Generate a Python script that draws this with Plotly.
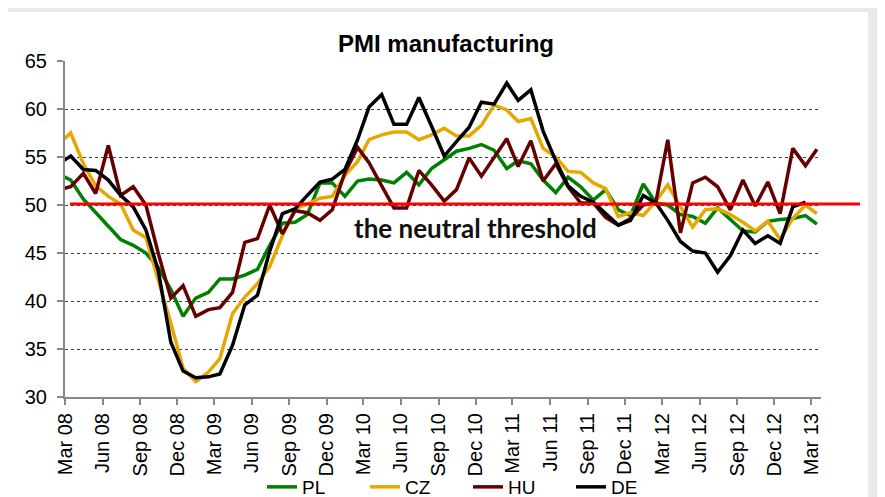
import plotly.graph_objects as go
import pandas as pd

title = "PMI manufacturing"
threshold_label = "the neutral threshold"
threshold = 50.1

# monthly observations, Feb 08 .. Mar 13 (Feb 08 is only partly visible at the left edge)
months = pd.date_range("2008-02-01", "2013-03-01", freq="MS")

tick_dates = pd.date_range("2008-03-01", "2013-03-01", freq="3MS")
tick_labels = ["Mar 08", "Jun 08", "Sep 08", "Dec 08", "Mar 09", "Jun 09", "Sep 09",
               "Dec 09", "Mar 10", "Jun 10", "Sep 10", "Dec 10", "Mar 11", "Jun 11",
               "Sep 11", "Dec 11", "Mar 12", "Jun 12", "Sep 12", "Dec 12", "Mar 13"]
y_ticks = [30, 35, 40, 45, 50, 55, 60, 65]

pl = [53.2, 52.6, 50.6, 49.2, 47.8, 46.4, 45.8, 45.0, 43.5, 41.2, 38.4, 40.3, 40.9,
      42.3, 42.3, 42.7, 43.3, 45.8, 48.1, 48.2, 49.0, 52.3, 52.3, 50.9, 52.5, 52.7,
      52.6, 52.3, 53.4, 52.1, 53.8, 54.7, 55.6, 55.9, 56.3, 55.7, 53.8, 54.6, 54.3,
      52.6, 51.3, 52.9, 51.9, 50.5, 51.6, 49.5, 48.9, 52.2, 50.2, 50.0, 49.0, 48.8,
      48.1, 49.7, 48.5, 47.3, 47.2, 48.3, 48.5, 48.6, 48.9, 48.0]
cz = [56.4, 57.5, 54.3, 52.0, 50.9, 50.1, 47.4, 46.6, 42.2, 37.7, 33.0, 31.6, 32.6,
      34.0, 38.7, 40.4, 41.8, 43.6, 46.8, 49.6, 50.1, 50.7, 50.9, 53.1, 54.5, 56.8,
      57.3, 57.6, 57.6, 56.8, 57.3, 58.0, 57.2, 57.2, 58.3, 60.4, 59.9, 58.7, 59.0,
      55.9, 55.0, 53.5, 53.4, 52.3, 51.7, 48.8, 49.2, 48.9, 50.4, 52.1, 49.8, 47.7,
      49.5, 49.6, 49.0, 48.2, 47.3, 48.3, 46.4, 48.6, 50.0, 49.1]
hu = [51.6, 51.9, 53.3, 51.2, 56.2, 51.0, 51.9, 50.0, 45.0, 40.3, 41.6, 38.4, 39.1,
      39.3, 40.9, 46.1, 46.5, 50.0, 47.0, 49.4, 49.2, 48.4, 49.5, 53.4, 56.0, 54.4,
      52.0, 49.7, 49.7, 53.6, 52.1, 50.4, 51.6, 54.9, 53.0, 55.0, 56.9, 54.0, 56.7,
      52.5, 54.3, 51.9, 50.2, 50.2, 48.7, 47.9, 48.6, 50.0, 50.3, 56.8, 47.1, 52.3,
      52.9, 51.9, 49.5, 52.6, 49.9, 52.4, 49.1, 55.9, 54.1, 55.8]
de = [54.3, 55.1, 53.7, 53.6, 52.6, 51.0, 49.8, 47.4, 43.2, 35.7, 32.7, 32.0, 32.1,
      32.4, 35.4, 39.6, 40.6, 45.2, 49.1, 49.6, 51.0, 52.4, 52.7, 53.7, 56.8, 60.2,
      61.5, 58.4, 58.4, 61.2, 58.2, 55.1, 56.6, 58.1, 60.7, 60.5, 62.7, 60.9, 62.0,
      57.7, 54.6, 52.0, 50.9, 50.3, 49.1, 47.9, 48.4, 51.0, 50.2, 48.4, 46.2, 45.2,
      45.0, 43.0, 44.7, 47.4, 46.0, 46.8, 46.0, 49.8, 50.3]

series = [("PL", pl, "#008000"), ("CZ", cz, "#E6A800"),
          ("HU", hu, "#660000"), ("DE", de, "#000000")]

fig = go.Figure()
for name, vals, color in series:
    xs = months[:len(vals)] + pd.Timedelta(days=14)
    fig.add_trace(go.Scatter(x=xs, y=vals, mode="lines", name=name,
                             line=dict(color=color, width=3.5)))

# the page places the figure 8px from the top-left corner of the window
OFF = 8
W, H = 885 - OFF, 497 - OFF
# plot area in window pixels (reference coordinates)
L, R, T, B = 65, 821, 61, 397
pw, ph = R - L, B - T

def px(x):
    return (x - L) / pw

def py(y):
    return (B - y) / ph

def cx(x):
    return (x - OFF) / W

def cy(y):
    return 1 - (y - OFF) / H

font_axis = dict(family="Liberation Sans, Arial, sans-serif", size=20, color="#000000")

fig.update_layout(
    width=W, height=H, autosize=False,
    margin=dict(l=L - OFF, r=885 - R, t=T - OFF, b=497 - B, pad=0),
    paper_bgcolor="#e9e9e9",
    plot_bgcolor="rgba(0,0,0,0)",
    title=dict(text="<b>" + title + "</b>", x=cx(446), xref="container", xanchor="center",
               y=cy(44), yref="container", yanchor="middle",
               font=dict(family="Liberation Sans, Arial, sans-serif", size=24, color="#000000")),
    xaxis=dict(type="date", range=["2008-03-01", "2013-03-25"], automargin=False,
               tickvals=tick_dates, ticktext=tick_labels, tickangle=-90,
               ticks="outside", ticklen=6, tickcolor="#888888", tickwidth=1.5,
               showline=True, linecolor="#888888", linewidth=2,
               showgrid=False, zeroline=False, tickfont=font_axis),
    yaxis=dict(range=[30, 65], tickvals=y_ticks, automargin=False,
               ticks="outside", ticklen=6, tickcolor="#888888", tickwidth=1.5,
               ticklabelstandoff=6,
               showline=True, linecolor="#888888", linewidth=2,
               showgrid=True, gridcolor="#404040", gridwidth=1, griddash="dot",
               zeroline=False, tickfont=font_axis),
    legend=dict(orientation="h", xref="container", yref="container",
                x=cx(262), xanchor="left", y=cy(487), yanchor="middle",
                font=dict(family="Liberation Sans, Arial, sans-serif", size=19, color="#000000"),
                bgcolor="rgba(0,0,0,0)", entrywidth=58, entrywidthmode="pixels"),
    showlegend=True,
)

fig.add_shape(type="rect", xref="paper", yref="paper", layer="below",
              x0=px(OFF - 2), x1=px(868), y0=py(505), y1=py(12),
              fillcolor="#ffffff", line=dict(width=0))
fig.add_shape(type="line", xref="paper", yref="y", layer="above",
              x0=px(70), x1=px(860), y0=threshold, y1=threshold,
              line=dict(color="#ff0000", width=3))
fig.add_annotation(text="<b>" + threshold_label + "</b>", xref="paper", yref="paper",
                   x=px(476), y=py(228), xanchor="center", yanchor="middle", showarrow=False,
                   font=dict(family="Lato, Carlito, sans-serif", size=26, color="#111111"))

fig.write_html("out.html")
